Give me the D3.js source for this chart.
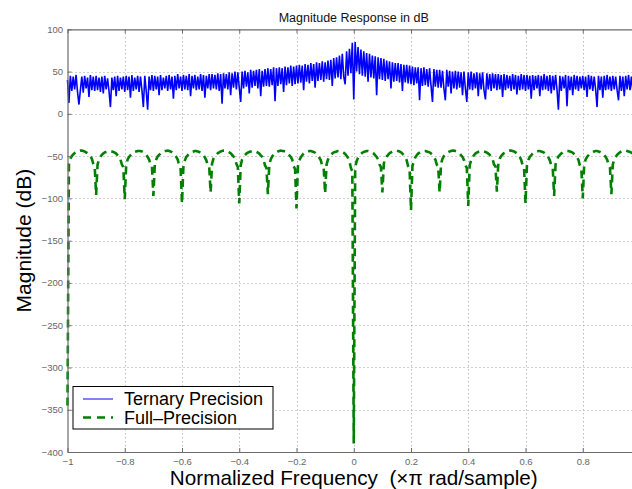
<!DOCTYPE html>
<html>
<head>
<meta charset="utf-8">
<script src="https://cdn.jsdelivr.net/npm/d3@7"></script>
<style>
  html, body { margin: 0; padding: 0; background: #fff; overflow: hidden; }
  svg { display: block; font-family: "Liberation Sans", Arial, Helvetica, sans-serif; }
</style>
</head>
<body>
<svg id="chart" width="632" height="489"></svg>
<script>
// Frequency grid shared by both responses (normalized, x pi rad/sample)
const freqStart = -1;
const freqStep = 0.005;

// Ternary-precision filter magnitude response (dB), one value per grid point
const ternaryMag = [
  40, 13, 45, 27, 44, 29, 46, 26, 11, 28, 44, 25, 45, 30, 43, 20, 46, 28, 44, 27,
  45, 28, 43, 26, 44, 24, 45, 29, 42, 27, 8, 43, 28, 44, 21, 45, 27, 43, 29, 44,
  26, 45, 28, 44, 19, 46, 27, 43, 29, 45, 26, 44, 28, 8, 45, 27, 5, 44, 28, 46,
  27, 45, 29, 44, 22, 46, 28, 43, 30, 45, 27, 46, 29, 44, 18, 45, 28, 47, 30, 44,
  27, 46, 29, 45, 28, 47, 21, 45, 30, 46, 28, 44, 29, 47, 27, 46, 19, 45, 30, 47,
  28, 47, 30, 46, 29, 48, 27, 47, 12, 48, 30, 47, 29, 49, 22, 48, 31, 50, 29, 49,
  31, 14, 50, 30, 51, 32, 49, 24, 52, 31, 51, 33, 52, 30, 53, 21, 51, 32, 53, 33,
  54, 32, 53, 34, 55, 15, 54, 33, 55, 35, 54, 26, 56, 34, 55, 36, 57, 33, 56, 35,
  57, 36, 58, 37, 57, 28, 59, 38, 58, 36, 60, 39, 59, 31, 61, 39, 60, 40, 62, 38,
  61, 41, 63, 40, 64, 33, 66, 42, 67, 43, 69, 41, 71, 44, 35, 74, 45, 77, 48, 84,
  17, 85, 50, 79, 47, 76, 45, 74, 44, 72, 38, 71, 43, 69, 42, 68, 22, 67, 41, 66,
  40, 65, 39, 63, 41, 62, 30, 61, 38, 60, 39, 60, 37, 59, 27, 58, 37, 58, 36, 57,
  35, 56, 34, 55, 36, 55, 16, 54, 33, 55, 34, 53, 32, 54, 33, 14, 53, 32, 52, 31,
  52, 31, 51, 30, 16, 52, 32, 51, 24, 50, 30, 51, 29, 50, 31, 49, 22, 50, 30, 14,
  49, 29, 50, 28, 48, 30, 49, 21, 48, 29, 49, 28, 17, 48, 29, 47, 27, 48, 30, 47,
  28, 47, 29, 46, 20, 47, 28, 46, 30, 45, 27, 47, 29, 46, 23, 45, 28, 47, 29, 46,
  27, 46, 29, 45, 18, 46, 28, 45, 30, 46, 21, 45, 28, 47, 29, 45, 27, 46, 24, 45,
  28, 46, 29, 5, 45, 27, 44, 30, 46, 9, 45, 28, 44, 22, 46, 29, 45, 27, 44, 30,
  45, 28, 44, 20, 46, 29, 45, 27, 44, 29, 8, 45, 28, 44, 19, 45, 28, 46, 29, 44,
  27, 45, 29, 44, 28, 16, 45, 27, 44, 21, 45, 29, 46, 28, 44, 27
];

// Full-precision filter magnitude response (dB), same grid, one row per 0.1 band
const fullPrecisionMag = [
  -345, -59, -53, -50, -48, -46.5, -45.5, -44.5, -44, -43.5, -43.5, -44, -44.5, -45.5, -46.5, -48, -50, -53, -59, -62,
  -96, -60, -54, -51, -48.5, -47, -45.5, -45, -44.5, -44, -44, -44.5, -45, -46, -47, -49, -51, -54, -60, -63,
  -101, -61, -54, -51, -49, -47, -46, -45, -44.5, -44, -44, -44, -44.5, -45.5, -47, -48.5, -51, -54, -60, -62,
  -97, -60, -54, -50.5, -48.5, -47, -45.5, -44.5, -44, -44, -43.5, -44, -44.5, -45.5, -47, -49, -51, -54, -61, -64,
  -106, -61, -55, -51, -49, -47, -46, -45, -44.5, -44, -44, -44.5, -45, -46, -47.5, -49, -51.5, -55, -61, -62,
  -93, -59, -53, -50.5, -48.5, -46.5, -45.5, -44.5, -44, -43.5, -43.5, -44, -44.5, -45.5, -46.5, -48.5, -50.5, -53, -59, -63,
  -106, -61, -54, -51, -49, -47, -46, -45, -44.5, -44, -44, -44.5, -45, -46, -47, -49, -51, -54, -61, -64,
  -95, -60, -54, -50.5, -48.5, -46.5, -45.5, -44.5, -44, -43.5, -44, -44, -44.5, -45.5, -47, -49, -51, -54, -62, -65,
  -112, -62, -55, -51.5, -49, -47, -46, -45, -44.5, -44, -44, -44.5, -45, -46, -47.5, -49.5, -52, -55, -62, -64,
  -94, -60, -54, -51, -48.5, -47, -45.5, -45, -44.5, -44, -44, -44.5, -45, -46, -47.5, -49.5, -52, -56, -64, -68,
  -390, -64, -56, -52, -49.5, -47.5, -46, -45, -44.5, -44, -44, -44.5, -45, -46, -47, -49, -51, -54, -60, -63,
  -93, -59, -53, -50.5, -48.5, -46.5, -45.5, -44.5, -44, -43.5, -43.5, -44, -44.5, -45.5, -47, -49, -51.5, -55, -62, -65,
  -114, -62, -55, -51.5, -49, -47, -46, -45, -44.5, -44, -44, -44.5, -45, -45.5, -47, -48.5, -51, -54, -60, -63,
  -93, -59, -53, -50, -48, -46.5, -45.5, -44.5, -44, -43.5, -43.5, -44, -44.5, -45.5, -47, -49, -51, -54.5, -61, -64,
  -109, -61, -55, -51, -49, -47, -46, -45, -44.5, -44, -44, -44.5, -45, -46, -47, -48.5, -50.5, -53.5, -60, -62,
  -92, -59, -53, -50, -48, -46.5, -45.5, -44.5, -44, -43.5, -43.5, -44, -44.5, -45.5, -47, -49, -51, -54.5, -61, -64,
  -106, -61, -54.5, -51, -49, -47, -46, -45, -44.5, -44, -44, -44.5, -45, -46, -47.5, -49, -51.5, -55, -61, -63,
  -97, -60, -54, -50.5, -48.5, -47, -45.5, -45, -44.5, -44, -44, -44.5, -45, -46, -47.5, -49, -51.5, -54.5, -61, -64,
  -100, -60, -54, -51, -49, -47, -46, -45, -44.5, -44, -44, -44.5, -45, -46, -47, -49, -51, -54, -60, -63,
  -95, -60, -54, -51, -48.5, -47, -45.5, -44.5, -44, -43.5, -43.5, -44, -44.5, -45, -46, -47
];

// Axis ticks and their printed labels
const xTicks = [-1, -0.8, -0.6, -0.4, -0.2, 0, 0.2, 0.4, 0.6, 0.8];
const xTickLabels = ["\u22121", "\u22120.8", "\u22120.6", "\u22120.4", "\u22120.2", "0", "0.2", "0.4", "0.6", "0.8"];
const yTicks = [100, 50, 0, -50, -100, -150, -200, -250, -300, -350, -400];
const yTickLabels = ["100", "50", "0", "\u221250", "\u2212100", "\u2212150", "\u2212200", "\u2212250", "\u2212300", "\u2212350", "\u2212400"];

const seriesNames = ["Ternary Precision", "Full\u2013Precision"];
const seriesColors = ["#0000ff", "#008000"];

// ---- layout ----
const plotLeft = 67.5, plotRight = 640, plotTop = 29.3, plotBottom = 452;
const axisColor = "#6b6b6b";
const svg = d3.select("#chart");

svg.append("rect").attr("width", 632).attr("height", 489).attr("fill", "#fff");

const x = d3.scaleLinear().domain([-1, 1]).range([plotLeft, plotRight]);
const y = d3.scaleLinear().domain([-400, 100]).range([plotBottom, plotTop]);

// dotted grid
const grid = svg.append("g").attr("stroke", "#a0a0a0").attr("stroke-width", 1)
  .attr("stroke-dasharray", "1,3");
grid.selectAll("line.gx").data(xTicks.filter(d => d !== -1)).join("line")
  .attr("x1", d => Math.round(x(d)) + 0.5).attr("x2", d => Math.round(x(d)) + 0.5)
  .attr("y1", plotTop).attr("y2", plotBottom);
grid.selectAll("line.gy").data(yTicks.filter(d => d !== -400 && d !== 100)).join("line")
  .attr("y1", d => Math.round(y(d)) + 0.5).attr("y2", d => Math.round(y(d)) + 0.5)
  .attr("x1", plotLeft).attr("x2", plotRight);

// clip for the data lines
svg.append("clipPath").attr("id", "plotClip").append("rect")
  .attr("x", plotLeft - 3).attr("y", plotTop).attr("width", plotRight - plotLeft + 3).attr("height", plotBottom - plotTop);

const freqAt = i => freqStart + i * freqStep;
const line = d3.line().x((d, i) => x(freqAt(i))).y(d => y(d));

const plot = svg.append("g").attr("clip-path", "url(#plotClip)");
plot.append("path").datum(ternaryMag)
  .attr("fill", "none").attr("stroke", seriesColors[0]).attr("stroke-width", 1.6)
  .attr("stroke-linejoin", "bevel")
  .attr("d", line);
plot.append("path").datum(fullPrecisionMag)
  .attr("fill", "none").attr("stroke", seriesColors[1]).attr("stroke-width", 2.6)
  .attr("stroke-dasharray", "8,5")
  .attr("d", line);

// axes
function styleAxis(g) {
  g.selectAll("path.domain").attr("stroke", axisColor).attr("stroke-width", 1.2);
  g.selectAll(".tick line").attr("stroke", axisColor).attr("stroke-width", 1);
  g.selectAll(".tick text").attr("fill", "#666").attr("font-size", 9.5)
    .attr("font-family", "'Liberation Sans', Arial, sans-serif");
}

svg.append("g").attr("transform", `translate(0,${plotBottom})`)
  .call(d3.axisBottom(x).tickValues(xTicks).tickFormat((d, i) => xTickLabels[i])
    .tickSizeInner(-4).tickSizeOuter(0).tickPadding(6))
  .call(styleAxis);

svg.append("g").attr("transform", `translate(0,${plotTop})`)
  .call(d3.axisTop(x).tickValues(xTicks).tickFormat("")
    .tickSizeInner(-4).tickSizeOuter(0))
  .call(styleAxis);

svg.append("g").attr("transform", `translate(${plotLeft},0)`)
  .call(d3.axisLeft(y).tickValues(yTicks).tickFormat((d, i) => yTickLabels[i])
    .tickSizeInner(-4).tickSizeOuter(0).tickPadding(4.5))
  .call(styleAxis);

// titles
svg.append("text").attr("x", (plotLeft + plotRight) / 2).attr("y", 22)
  .attr("text-anchor", "middle").attr("font-size", 12.5).attr("fill", "#111")
  .text("Magnitude Response in dB");

svg.append("text").attr("transform", `translate(31,${(plotTop + plotBottom) / 2}) rotate(-90)`)
  .attr("text-anchor", "middle").attr("font-size", 21).attr("fill", "#000")
  .text("Magnitude (dB)");

svg.append("text").attr("x", (plotLeft + plotRight) / 2).attr("y", 485)
  .attr("text-anchor", "middle").attr("font-size", 20.7).attr("fill", "#000")
  .style("white-space", "pre")
  .text("Normalized Frequency  (\u00d7\u03c0 rad/sample)");

// legend
const legend = svg.append("g");
legend.append("rect").attr("x", 73).attr("y", 386.5).attr("width", 200).attr("height", 42.5)
  .attr("fill", "#fff").attr("stroke", "#000").attr("stroke-width", 1);
const legendRows = [399, 417.5];
seriesNames.forEach((name, i) => {
  legend.append("line").attr("x1", 83).attr("x2", 113)
    .attr("y1", legendRows[i]).attr("y2", legendRows[i])
    .attr("stroke", seriesColors[i]).attr("stroke-width", i === 0 ? 1 : 2.6)
    .attr("stroke-dasharray", i === 0 ? null : "8,6");
  legend.append("text").attr("x", 124).attr("y", legendRows[i] + 6)
    .attr("font-size", 18).attr("fill", "#000").text(name);
});
</script>
</body>
</html>
